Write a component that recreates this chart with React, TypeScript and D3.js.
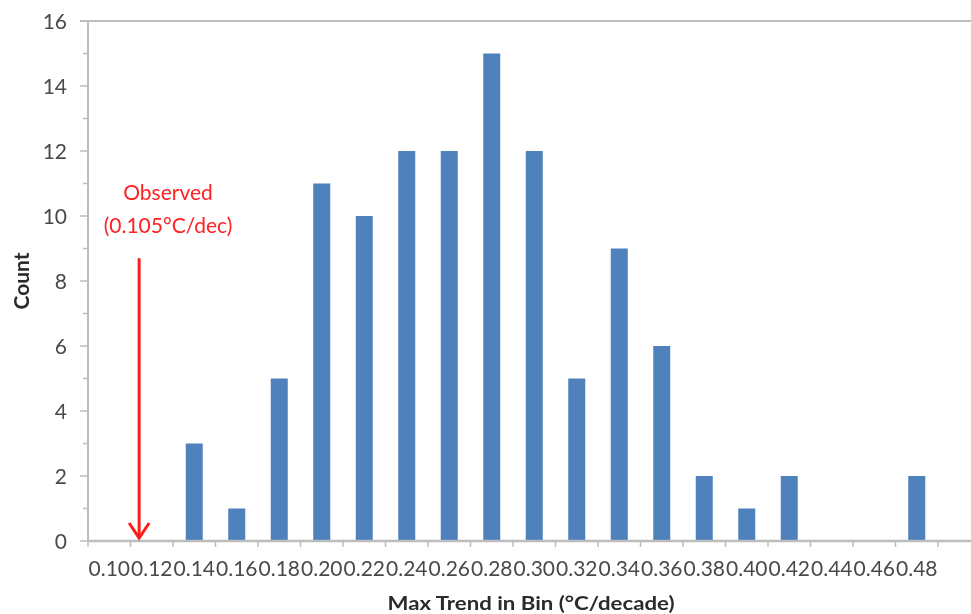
import React from 'react';
import * as d3 from 'd3';

const categories = ['0.10','0.12','0.14','0.16','0.18','0.20','0.22','0.24','0.26','0.28','0.30','0.32','0.34','0.36','0.38','0.40','0.42','0.44','0.46','0.48'];
const counts = [0,0,3,1,5,11,10,12,12,15,12,5,9,6,2,1,2,0,0,2];
const yTicks = [0,2,4,6,8,10,12,14,16];
const yMinorTicks = [1,3,5,7,9,11,13,15];
const observedValue = 0.105;
const observedLines = ['Observed', '(0.105°C/dec)'];
const xTitle = 'Max Trend in Bin (°C/decade)';
const yTitle = 'Count';

const W = 971, H = 614;
const left = 88, right = 938, top = 21, bottom = 541;
const FONT = 'Lato, "Open Sans", sans-serif';
const TEXT = '#4a4a4a';
const AXIS = '#bdbdbd';

export default function App() {
  const x = d3.scaleBand<string>().domain(categories).range([left, right]).paddingInner(0.6).paddingOuter(0.3);
  const step = x.step();
  const y = d3.scaleLinear().domain([0, 16]).range([bottom, top]);
  const xVal = d3.scaleLinear().domain([0.08, 0.48]).range([left, right]);
  const boundaries = d3.range(categories.length + 1).map(i => left + i * step);
  const ox = xVal(observedValue) - 2;
  const arrowTop = y(8.7);
  const arrowBottom = y(0) - 1;

  return (
    <svg width={W} height={H} style={{ position: 'absolute', left: 0, top: 0, background: '#fff' }}>
      <defs>
        <filter id="soft" x="-5%" y="-5%" width="110%" height="110%">
          <feGaussianBlur stdDeviation="0.5" />
        </filter>
      </defs>
      <rect x={0} y={0} width={W} height={H} fill="#fff" />
      <g filter="url(#soft)">
        <line x1={80} x2={W} y1={y(16)} y2={y(16)} stroke={AXIS} strokeWidth={2} />
        {counts.map((c, i) => (
          <rect key={i} x={x(categories[i])} y={y(c)} width={x.bandwidth()} height={y(0) - y(c)} fill="#4f81bd" />
        ))}
        <line x1={left} x2={left} y1={top} y2={bottom} stroke={AXIS} strokeWidth={2} />
        {yTicks.map(t => (
          <g key={t}>
            <line x1={80} x2={left} y1={y(t)} y2={y(t)} stroke={AXIS} strokeWidth={1.5} />
            <text x={67} y={y(t)} dy="0.36em" textAnchor="end" fontFamily={FONT} fontSize={21} fill={TEXT}>{t}</text>
          </g>
        ))}
        {yMinorTicks.map(t => (
          <line key={t} x1={83} x2={left} y1={y(t)} y2={y(t)} stroke={AXIS} strokeWidth={1.5} />
        ))}
        <line x1={left} x2={W} y1={bottom} y2={bottom} stroke={AXIS} strokeWidth={2.5} />
        {boundaries.map((b, i) => (
          <line key={i} x1={b} x2={b} y1={bottom} y2={bottom + 6} stroke={AXIS} strokeWidth={1.5} />
        ))}
        {categories.map(c => (
          <text key={c} x={(x(c) as number) + x.bandwidth() / 2} y={568} dy="0.36em" textAnchor="middle" fontFamily={FONT} fontSize={21} fill={TEXT}>{c}</text>
        ))}
        <text x={531} y={603} dy="0.36em" textAnchor="middle" fontFamily={FONT} fontWeight="bold" fontSize={19} fill="#2a2a2a" textLength={287} lengthAdjust="spacingAndGlyphs">{xTitle}</text>
        <text transform={`translate(22,281) rotate(-90)`} dy="0.36em" textAnchor="middle" fontFamily={FONT} fontWeight="bold" fontSize={20} fill="#2a2a2a" textLength={57} lengthAdjust="spacingAndGlyphs">{yTitle}</text>
        <text x={168} y={192} dy="0.36em" textAnchor="middle" fontFamily={FONT} fontSize={21} fill="#ff2020">{observedLines[0]}</text>
        <text x={168} y={225} dy="0.36em" textAnchor="middle" fontFamily={FONT} fontSize={21} fill="#ff2020">{observedLines[1]}</text>
        <line x1={ox} x2={ox} y1={arrowTop} y2={arrowBottom - 3} stroke="#ff1a1a" strokeWidth={3} />
        <path d={`M${ox - 10},${arrowBottom - 17} L${ox},${arrowBottom - 2} L${ox + 10},${arrowBottom - 17}`} fill="none" stroke="#ff1a1a" strokeWidth={3} />
      </g>
    </svg>
  );
}
